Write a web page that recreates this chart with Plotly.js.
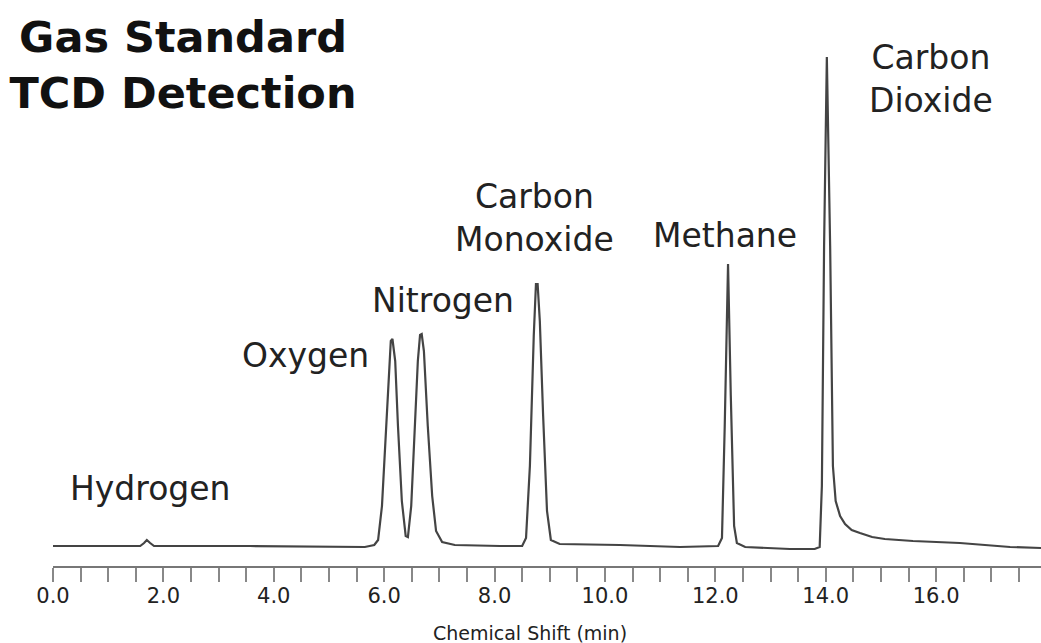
<!DOCTYPE html>
<html>
<head>
<meta charset="utf-8">
<script src="https://cdn.plot.ly/plotly-3.0.1.min.js"></script>
<style>
  html, body { margin: 0; padding: 0; background: #fff; }
  #chart { width: 1041px; height: 643px; }
</style>
</head>
<body>
<div id="chart"></div>
<script>
// Thermal conductivity detector trace for a gas standard (retention time in min, detector response)
const retentionTime = [
  0.00, 1.21, 1.58, 1.65, 1.70, 1.76, 1.83, 3.57, 5.20, 5.65,
  5.82, 5.89, 5.96, 6.03, 6.09, 6.12, 6.15, 6.20, 6.25, 6.32, 6.39,
  6.43, 6.49, 6.56, 6.61, 6.65, 6.68, 6.72, 6.79, 6.87, 6.94, 7.05,
  7.28, 8.10, 8.50, 8.57, 8.64, 8.71, 8.75, 8.78, 8.82, 8.88, 8.95,
  9.02, 9.18, 10.27, 11.36, 12.05, 12.12, 12.17, 12.23, 12.28, 12.34,
  12.39, 12.54, 13.35, 13.80, 13.89, 13.93, 13.97, 14.02, 14.08, 14.13,
  14.18, 14.26, 14.35, 14.47, 14.62, 14.84, 15.07, 15.58, 16.43, 16.88,
  17.34, 17.90
];
const detectorSignal = [
  0, 0, 0, 3, 6, 3, 0, 0, -1, -1,
  1, 6, 40, 110, 180, 205, 207, 185, 120, 45, 10,
  9, 40, 120, 185, 211, 212, 195, 120, 50, 15, 4,
  1, 0, 0, 8, 80, 210, 262, 262, 225, 130, 35,
  6, 2, 1, -1, 0, 8, 120, 282, 150, 20,
  3, -1, -3, -3, -1, 60, 300, 489, 300, 80,
  45, 30, 22, 16, 13, 9, 7, 5, 3, 1,
  -1, -2
];

// Compound names and where each name sits (time, response)
const peakNames = ['Hydrogen', 'Oxygen', 'Nitrogen', 'Carbon<br>Monoxide', 'Methane', 'Carbon<br>Dioxide'];
const labelTime = [1.76, 4.57, 7.07, 8.72, 12.17, 15.91];
const labelSignal = [58, 191, 246, 328, 311, 467];

const labelFont = { family: 'DejaVu Sans', size: 33, color: '#222' };

const annotations = peakNames.map((name, i) => ({
  text: name,
  x: labelTime[i],
  y: labelSignal[i],
  xref: 'x',
  yref: 'y',
  xanchor: 'center',
  yanchor: 'middle',
  align: 'center',
  showarrow: false,
  font: labelFont
}));

// x-axis caption, set a little left of the plot centre
annotations.push({
  text: 'Chemical Shift (min)',
  xref: 'paper',
  yref: 'paper',
  x: (530 - 53) / 988,
  y: -(633 - 566) / 540,
  xanchor: 'center',
  yanchor: 'middle',
  showarrow: false,
  font: { family: 'DejaVu Sans', size: 19, color: '#222' }
});

const trace = {
  type: 'scatter',
  mode: 'lines',
  x: retentionTime,
  y: detectorSignal,
  line: { color: '#444', width: 2.2 },
  hoverinfo: 'skip'
};

const tickStyle = { ticks: 'outside', ticklen: 14, tickwidth: 2, tickcolor: '#888' };

const layout = {
  width: 1041,
  height: 643,
  margin: { l: 53, r: 0, t: 26, b: 77 },
  paper_bgcolor: '#fff',
  plot_bgcolor: '#fff',
  showlegend: false,
  title: {
    text: 'Gas Standard<br>TCD Detection',
    font: { family: 'DejaVu Sans', size: 43, weight: 'bold', color: '#111' },
    xref: 'container',
    yref: 'container',
    x: 183 / 1041,
    xanchor: 'center',
    y: 1 - 52 / 643,
    yanchor: 'top'
  },
  xaxis: Object.assign({
    range: [0, 17.9],
    tick0: 0,
    dtick: 2,
    tickformat: '.1f',
    showgrid: false,
    zeroline: false,
    showline: true,
    linecolor: '#777',
    linewidth: 2,
    ticklabelstandoff: -4,
    tickfont: { family: 'DejaVu Sans', size: 21, color: '#222' },
    minor: Object.assign({ dtick: 0.5, showgrid: false }, tickStyle),
    fixedrange: true
  }, tickStyle),
  yaxis: {
    range: [-20, 520],
    visible: false,
    fixedrange: true
  },
  annotations: annotations
};

Plotly.newPlot('chart', [trace], layout, { staticPlot: true, displayModeBar: false });
</script>
</body>
</html>
